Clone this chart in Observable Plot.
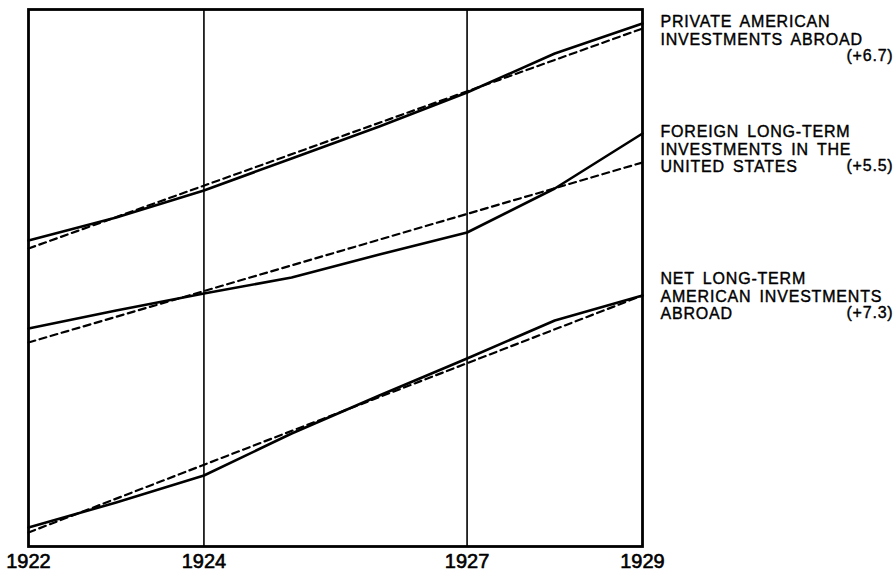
<!DOCTYPE html>
<html>
<head>
<meta charset="utf-8">
<script src="https://cdn.jsdelivr.net/npm/d3@7"></script>
<script src="https://cdn.jsdelivr.net/npm/@observablehq/plot@0.6"></script>
<style>
  html, body { margin: 0; padding: 0; background: #fff; }
  #chart svg { display: block; }
</style>
</head>
<body>
<div id="chart"></div>
<script>
// Data (relative index units)
const years = [1922, 1923, 1924, 1925, 1926, 1927, 1928, 1929];
const privateAbroad = [306, 329, 356, 388, 420, 454, 493, 523];
const foreignInUS   = [218, 236, 253, 269, 292, 314, 358, 413];
const netAbroad     = [19, 44, 71, 113, 151, 188, 226, 251];

const trendYears    = [1922, 1929];
const privateTrend  = [298, 518];
const foreignTrend  = [204, 384];
const netTrend      = [14, 251];

const seriesLabels = [
  "PRIVATE AMERICAN\nINVESTMENTS ABROAD",
  "FOREIGN LONG-TERM\nINVESTMENTS IN THE\nUNITED STATES",
  "NET LONG-TERM\nAMERICAN INVESTMENTS\nABROAD"
];
const seriesChanges = ["(+6.7)", "(+5.5)", "(+7.3)"];
const labelAnchor = [532, 422, 275];

const gridYears = [1924, 1927];
const tickYears = [1922, 1924, 1927, 1929];

// Build tables
const solid = [
  ...years.map((x, i) => ({s: "private", x, y: privateAbroad[i]})),
  ...years.map((x, i) => ({s: "foreign", x, y: foreignInUS[i]})),
  ...years.map((x, i) => ({s: "net", x, y: netAbroad[i]}))
];
const trend = [
  ...trendYears.map((x, i) => ({s: "private", x, y: privateTrend[i]})),
  ...trendYears.map((x, i) => ({s: "foreign", x, y: foreignTrend[i]})),
  ...trendYears.map((x, i) => ({s: "net", x, y: netTrend[i]}))
];
const labels = seriesLabels.map((t, i) => ({t, c: seriesChanges[i], y: labelAnchor[i]}));

const font = "'Liberation Sans', Arial, sans-serif";

const plot = Plot.plot({
  width: 896,
  height: 573,
  marginLeft: 28,
  marginRight: 254,
  marginTop: 9,
  marginBottom: 27,
  x: {domain: [1922, 1929], axis: null},
  y: {domain: [0, 537], axis: null},
  style: {fontFamily: font, background: "#fff", color: "#000"},
  marks: [
    Plot.ruleX(gridYears, {stroke: "#000", strokeWidth: 1.6}),
    Plot.line(trend, {x: "x", y: "y", z: "s", stroke: "#000", strokeWidth: 2.2, strokeDasharray: "7,4.5"}),
    Plot.line(solid, {x: "x", y: "y", z: "s", stroke: "#000", strokeWidth: 2.6}),
    Plot.frame({stroke: "#000", strokeWidth: 2.8}),
    Plot.text(tickYears, {x: d => d, y: 0, text: d => String(d), dy: 15, fontSize: 20, textAnchor: "middle", lineAnchor: "middle", fill: "#000", stroke: "#000", strokeWidth: 0.6}),
    Plot.text(labels, {x: 1929, y: "y", text: "t", dx: 18, textAnchor: "start", lineAnchor: "top", lineHeight: 1.1, fontSize: 16, fill: "#000", stroke: "#000", strokeWidth: 0.4}),
    Plot.text(labels, {x: 1929, y: "y", text: "c", dx: 251, dy: 35, textAnchor: "end", lineAnchor: "top", fontSize: 16, fill: "#000", stroke: "#000", strokeWidth: 0.4})
  ]
});
d3.select(plot).selectAll("g[aria-label=text] text").filter(function() {
  return !/^19\d\d$/.test(this.textContent);
}).style("letter-spacing", "0.8px").style("word-spacing", "3px");
document.getElementById("chart").appendChild(plot);
</script>
</body>
</html>
